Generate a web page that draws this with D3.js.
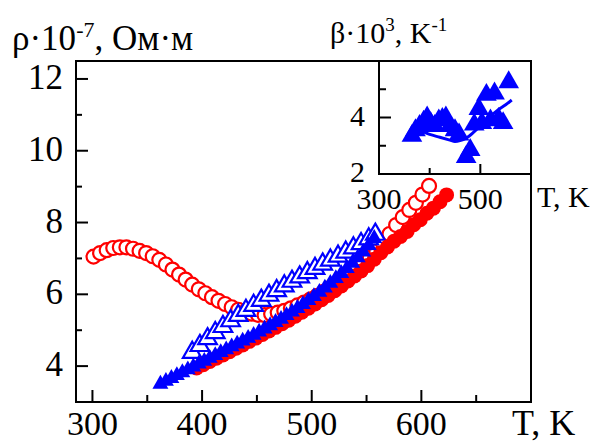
<!DOCTYPE html>
<html lang="ru">
<head>
<meta charset="UTF-8">
<title>rho(T)</title>
<script src="https://d3js.org/d3.v7.min.js"></script>
<style>
  body { margin: 0; background: #fff; }
  text { font-family: "Liberation Serif", "Times New Roman", serif; fill: #000; }
</style>
</head>
<body>
<script>
// red open circles
var redOpenT = [301,307,313,319,325,331,337,343,349,355,361,367,373,379,385,391,397,403,409,415,421,427,433,439,445,451,457,463,469,475,481,487,493,499,505,511,517,523,529,535,541,547,553,559,565,571,577,583,589,595,601,607];
var redOpenR = [7.05,7.15,7.23,7.29,7.31,7.31,7.27,7.21,7.15,7.06,6.96,6.83,6.69,6.55,6.41,6.27,6.14,6.03,5.92,5.82,5.73,5.64,5.57,5.51,5.46,5.43,5.42,5.45,5.49,5.54,5.61,5.69,5.77,5.86,5.96,6.07,6.18,6.3,6.43,6.56,6.7,6.85,7.02,7.2,7.42,7.68,7.93,8.15,8.35,8.55,8.78,9.02];
// red filled circles
var redFillT = [395,401,407,413,419,425,431,437,443,449,455,461,467,473,479,485,491,497,503,509,515,521,527,533,539,545,551,557,563,569,575,581,587,593,599,605,611,617,623];
var redFillR = [3.95,4.04,4.13,4.22,4.31,4.4,4.5,4.59,4.69,4.78,4.88,4.98,5.08,5.18,5.28,5.39,5.5,5.61,5.73,5.85,5.97,6.1,6.23,6.37,6.51,6.65,6.8,6.98,7.16,7.32,7.48,7.61,7.75,7.94,8.08,8.26,8.4,8.58,8.77];
// blue filled triangles
var blueFillT = [362,367,372,377,382,387,392,397,402,407,412,417,422,427,432,437,442,447,452,457,462,467,472,477,482,487,492,497,502,507,512,517,522,527,532,537,542,547,552,557];
var blueFillR = [3.5,3.58,3.66,3.74,3.82,3.9,3.98,4.06,4.14,4.22,4.3,4.38,4.46,4.54,4.62,4.7,4.78,4.86,4.95,5.04,5.13,5.22,5.31,5.41,5.51,5.61,5.72,5.83,5.94,6.06,6.18,6.31,6.44,6.58,6.72,6.87,7.02,7.18,7.36,7.56];
// blue open triangles
var blueOpenT = [391,398,405,412,419,426,433,440,447,454,461,468,475,482,489,496,503,510,517,524,531,538,545,552,558];
var blueOpenR = [4.38,4.57,4.76,4.93,5.1,5.26,5.41,5.55,5.69,5.83,5.97,6.1,6.23,6.36,6.48,6.6,6.72,6.84,6.95,7.06,7.17,7.29,7.41,7.54,7.67];

// inset: beta*10^3
var betaT = [365,372,380,388,395,402,410,418,425,432,440,450,458,472,480,488,497,503,512,520,528,536,545,556];
var betaV = [3.35,3.55,3.7,3.85,4.0,3.8,3.7,3.9,3.95,4.0,3.7,3.55,3.4,2.6,2.85,3.75,4.3,3.8,4.8,3.9,4.85,3.95,3.8,5.25];
var betaLineT = [365,385,400,420,440,450,460,472,488,500,515,535,550,562];
var betaLineV = [3.55,3.5,3.4,3.3,3.2,3.15,3.18,3.27,3.5,3.7,3.97,4.27,4.45,4.62];

var xTicks = [300,400,500,600], xMinor = [350,450,550,650];
var yTicks = [4,6,8,10,12], yMinor = [5,7,9,11];

var width = 595, height = 443;
var svg = d3.select("body").append("svg")
    .attr("width", width).attr("height", height);
svg.append("rect").attr("width", width).attr("height", height).attr("fill", "#fff");

var L = 76, R = 531, T = 61, B = 402;
var x = d3.scaleLinear().domain([285, 700]).range([L, R]);
var y = d3.scaleLinear().domain([3, 12.5]).range([B, T]);

var red = "#ff0000", blue = "#0000ff";

// ticks (inward)
var g = svg.append("g");
xTicks.forEach(function(t) {
    g.append("line").attr("x1", x(t)).attr("x2", x(t)).attr("y1", B).attr("y2", B - 12)
        .attr("stroke", "#000").attr("stroke-width", 2);
    g.append("text").attr("x", x(t)).attr("y", 435).attr("text-anchor", "middle")
        .attr("font-size", 34).text(t);
});
xMinor.forEach(function(t) {
    g.append("line").attr("x1", x(t)).attr("x2", x(t)).attr("y1", B).attr("y2", B - 7)
        .attr("stroke", "#000").attr("stroke-width", 2);
});
yTicks.forEach(function(v) {
    g.append("line").attr("x1", L).attr("x2", L + 12).attr("y1", y(v)).attr("y2", y(v))
        .attr("stroke", "#000").attr("stroke-width", 2);
    g.append("text").attr("x", 63).attr("y", y(v) + 10).attr("text-anchor", "end")
        .attr("font-size", 35).text(v);
});
yMinor.forEach(function(v) {
    g.append("line").attr("x1", L).attr("x2", L + 6).attr("y1", y(v)).attr("y2", y(v))
        .attr("stroke", "#000").attr("stroke-width", 2);
});

function pts(xs, ys) { return xs.map(function(d, i) { return [d, ys[i]]; }); }
var tri = function(size) { return d3.symbol().type(d3.symbolTriangle).size(size)(); };

// red open circles
svg.append("g").selectAll("circle").data(pts(redOpenT, redOpenR)).join("circle")
    .attr("cx", function(d) { return x(d[0]); }).attr("cy", function(d) { return y(d[1]); })
    .attr("r", 7).attr("fill", "#fff").attr("stroke", red).attr("stroke-width", 2.2);

// blue open triangles
svg.append("g").selectAll("path").data(pts(blueOpenT, blueOpenR)).join("path")
    .attr("transform", function(d) { return "translate(" + x(d[0]) + "," + y(d[1]) + ")"; })
    .attr("d", tri(150)).attr("fill", "#fff").attr("stroke", blue).attr("stroke-width", 2.2);

// red filled circles
svg.append("g").selectAll("circle").data(pts(redFillT, redFillR)).join("circle")
    .attr("cx", function(d) { return x(d[0]); }).attr("cy", function(d) { return y(d[1]); })
    .attr("r", 7.5).attr("fill", red);

// blue filled triangles
svg.append("g").selectAll("path").data(pts(blueFillT, blueFillR)).join("path")
    .attr("transform", function(d) { return "translate(" + x(d[0]) + "," + y(d[1]) + ")"; })
    .attr("d", tri(110)).attr("fill", blue);

// frame
svg.append("rect").attr("x", L).attr("y", T).attr("width", R - L).attr("height", B - T)
    .attr("fill", "none").attr("stroke", "#000").attr("stroke-width", 2);

// axis titles
var yt = svg.append("text").attr("x", 12).attr("y", 50).attr("font-size", 35);
yt.append("tspan").text("ρ·10");
yt.append("tspan").attr("font-size", 22).attr("dy", -13).text("-7");
yt.append("tspan").attr("dy", 13).text(", Ом·м");
svg.append("text").attr("x", 512).attr("y", 435).attr("font-size", 36).text("T, K");

// ---- inset ----
var iL = 379, iR = 531, iT = 61, iB = 174;
var ix = d3.scaleLinear().domain([300, 600]).range([iL, iR]);
var iy = d3.scaleLinear().domain([2, 6]).range([iB, iT]);
svg.append("rect").attr("x", iL).attr("y", iT).attr("width", iR - iL).attr("height", iB - iT)
    .attr("fill", "#fff");

svg.append("path").datum(pts(betaLineT, betaLineV))
    .attr("d", d3.line().x(function(d) { return ix(d[0]); }).y(function(d) { return iy(d[1]); }).curve(d3.curveMonotoneX))
    .attr("fill", "none").attr("stroke", blue).attr("stroke-width", 3);
svg.append("g").selectAll("path").data(pts(betaT, betaV)).join("path")
    .attr("transform", function(d) { return "translate(" + ix(d[0]) + "," + iy(d[1]) + ")"; })
    .attr("d", tri(185)).attr("fill", blue);

[[4, 12], [3, 7], [5, 7]].forEach(function(t) {
    svg.append("line").attr("x1", iL).attr("x2", iL + t[1]).attr("y1", iy(t[0])).attr("y2", iy(t[0]))
        .attr("stroke", "#000").attr("stroke-width", 2);
});
[[500, 10], [400, 6]].forEach(function(t) {
    svg.append("line").attr("x1", ix(t[0])).attr("x2", ix(t[0])).attr("y1", iB).attr("y2", iB - t[1])
        .attr("stroke", "#000").attr("stroke-width", 2);
});
svg.append("rect").attr("x", iL).attr("y", iT).attr("width", iR - iL).attr("height", iB - iT)
    .attr("fill", "none").attr("stroke", "#000").attr("stroke-width", 2);

[2, 4].forEach(function(v) {
    svg.append("text").attr("x", 365).attr("y", iy(v) + 8).attr("text-anchor", "end")
        .attr("font-size", 30).text(v);
});
[300, 500].forEach(function(t) {
    svg.append("text").attr("x", ix(t)).attr("y", 209).attr("text-anchor", "middle")
        .attr("font-size", 30).text(t);
});
svg.append("text").attr("x", 537).attr("y", 207).attr("font-size", 30).text("T, K");
var bt = svg.append("text").attr("x", 330).attr("y", 43).attr("font-size", 30);
bt.append("tspan").text("β·10");
bt.append("tspan").attr("font-size", 19).attr("dy", -12).text("3");
bt.append("tspan").attr("dy", 12).text(", K");
bt.append("tspan").attr("font-size", 19).attr("dy", -12).text("-1");
</script>
</body>
</html>
